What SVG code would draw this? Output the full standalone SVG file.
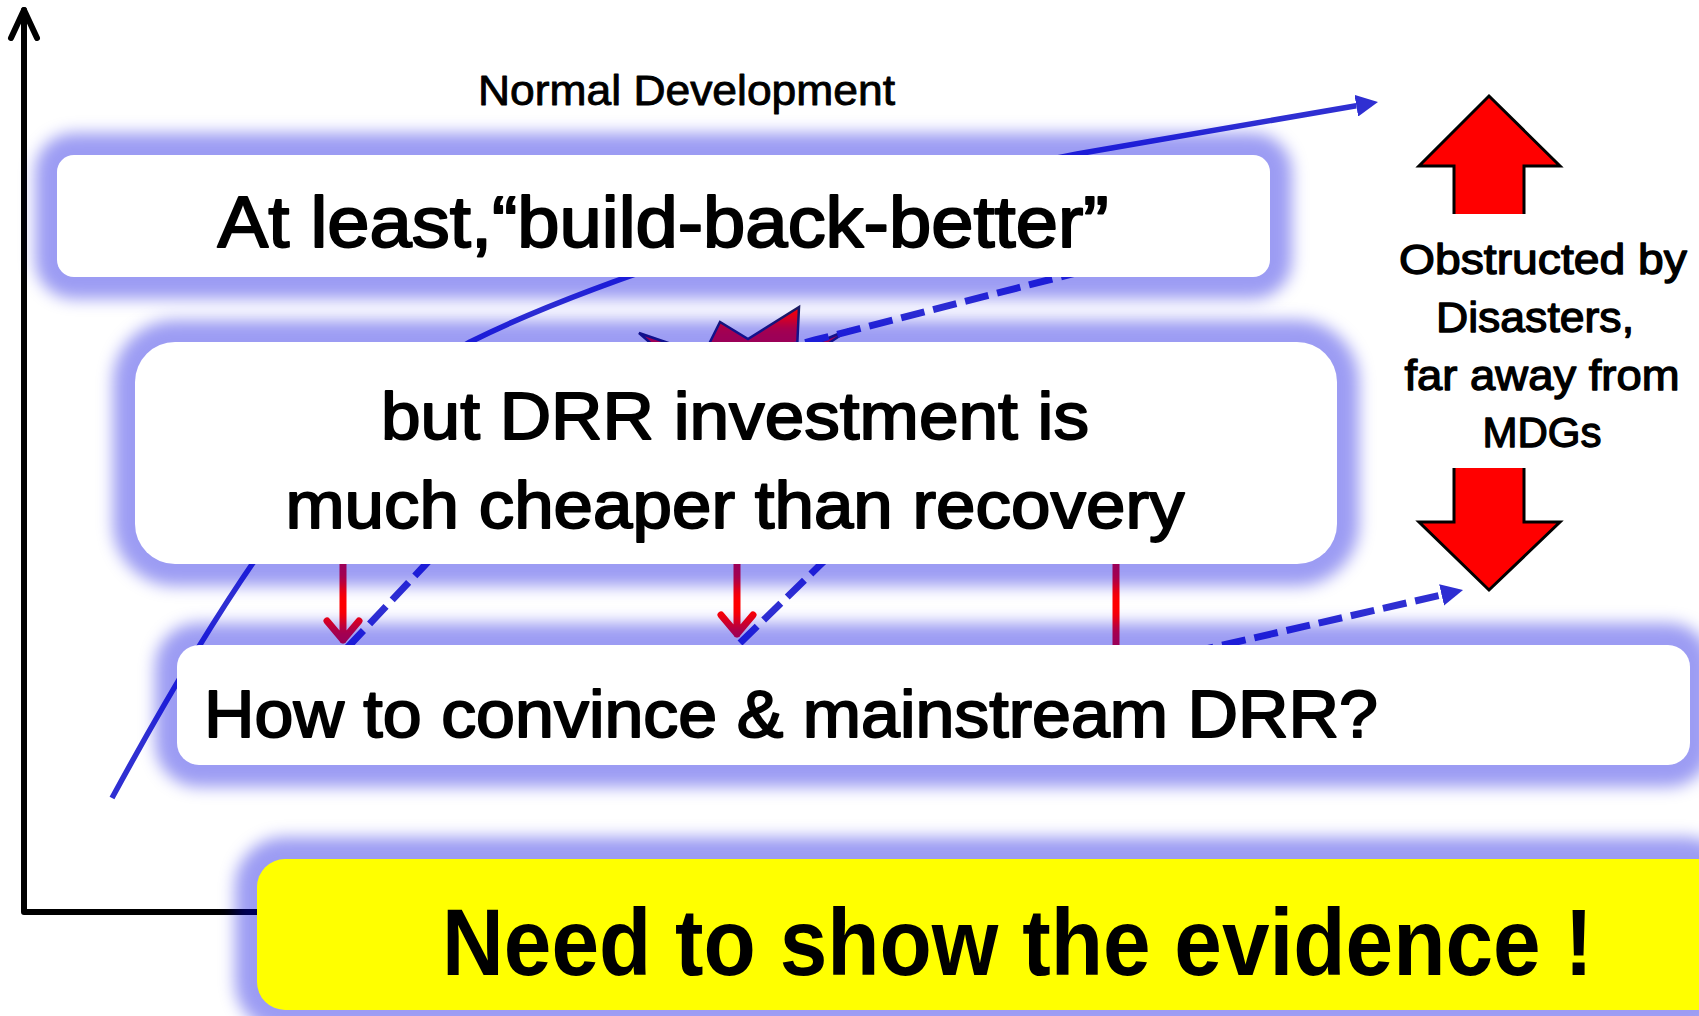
<svg xmlns="http://www.w3.org/2000/svg" width="1699" height="1016" viewBox="0 0 1699 1016">
  <defs>
    <style>
      .glow { fill: #0000e0; fill-opacity: 0.39; filter: url(#blur); }
      .box { fill: #ffffff; }
      .ybox { fill: #ffff00; }
      .t { font-family: "Liberation Sans", Arial, sans-serif; font-weight: bold; fill: #000000; }
      .tm { font-family: "Liberation Sans", Arial, sans-serif; font-weight: normal; fill: #000000; stroke: #000000; stroke-linejoin: round; }
      .blue { fill: none; stroke: #2f2fd2; stroke-width: 5.5; }
      .dash { fill: none; stroke: #2f2fd2; stroke-width: 7; stroke-dasharray: 24 9; }
      .red { fill: none; stroke: #ff0000; stroke-width: 7; stroke-linecap: round; stroke-linejoin: round; }
      .axis { fill: none; stroke: #000000; stroke-width: 6; stroke-linecap: round; stroke-linejoin: round; }
    </style>
    <filter id="blur" x="-10%" y="-50%" width="120%" height="200%">
      <feGaussianBlur stdDeviation="8"/>
    </filter>
    <marker id="ah" viewBox="0 0 22 22" refX="0" refY="11" markerWidth="22" markerHeight="22" markerUnits="userSpaceOnUse" orient="auto">
      <path d="M0,0 L22,11 L0,22 Z" fill="#2f2fd2"/>
    </marker>
  </defs>

  <rect x="0" y="0" width="1699" height="1016" fill="#ffffff"/>

  <g id="axes">
    <path class="axis" d="M24,10 L24,912 L300,912"/>
    <path class="axis" d="M11,38 L24,10 L37,38"/>
  </g>

  <g id="disaster-burst">
    <polygon points="639,333 680,347 705,352 720,322 748,339 799,307 797,350 812,345 850,329 826,345 815,365 760,380 700,375 670,360" fill="#ff0000" stroke="#1c1c5a" stroke-width="2.5" stroke-linejoin="miter"/>
  </g>

  <g id="connectors">
    <path class="blue" d="M112,798 C225,590 335,420 470,342 C590,282 840,200 1077,154 L1356.3,105.7" marker-end="url(#ah)"/>
    <path class="red" d="M343,550 L343,640 M327,621 L343,640 L359,621"/>
    <path class="red" d="M737,550 L737,634 M721,615 L737,634 L753,615"/>
    <path class="red" d="M1116,550 L1116,700"/>
    <path class="dash" d="M347,648 L425,565 C520,460 640,385 815,340 L1200,241"/>
    <path class="dash" d="M740,643 L820,565 L900,490"/>
    <path class="dash" d="M1190,652.6 L1441.6,594.9" marker-end="url(#ah)"/>
  </g>

  <g id="double-arrow">
    <polygon points="1489,96 1560,166 1524,166 1524,522 1560,522 1489,590 1419,522 1454,522 1454,166 1419,166" fill="#ff0000" stroke="#000000" stroke-width="3" stroke-linejoin="miter"/>
  </g>

  <g id="node-normal-development">
    <text class="tm" x="478" y="105" font-size="43" stroke-width="0.9" textLength="417" lengthAdjust="spacingAndGlyphs">Normal Development</text>
  </g>

  <g id="node-build-back-better">
    <rect class="glow" x="35" y="133" width="1257" height="166" rx="39"/>
    <rect class="box" x="57" y="155" width="1213" height="122" rx="17"/>
    <text class="tm" x="663" y="247" font-size="72" stroke-width="2" text-anchor="middle" textLength="891" lengthAdjust="spacingAndGlyphs">At least,“build-back-better”</text>
  </g>

  <g id="node-drr-investment">
    <rect class="glow" x="113" y="320" width="1246" height="266" rx="62"/>
    <rect class="box" x="135" y="342" width="1202" height="222" rx="40"/>
    <text class="tm" x="735" y="439" font-size="67" stroke-width="1.9" text-anchor="middle" textLength="708" lengthAdjust="spacingAndGlyphs">but DRR investment is</text>
    <text class="tm" x="735" y="528" font-size="67" stroke-width="1.9" text-anchor="middle" textLength="899" lengthAdjust="spacingAndGlyphs">much cheaper than recovery</text>
  </g>

  <g id="node-mainstream">
    <rect class="glow" x="155" y="623" width="1557" height="164" rx="44"/>
    <rect class="box" x="177" y="645" width="1513" height="120" rx="22"/>
    <text class="tm" x="204" y="737" font-size="66" stroke-width="1.9" textLength="1174" lengthAdjust="spacingAndGlyphs">How to convince &amp; mainstream DRR?</text>
  </g>

  <g id="node-evidence">
    <rect class="glow" x="235" y="837" width="1500" height="195" rx="50"/>
    <path class="ybox" d="M285,859 H1699 V1010 H285 A28,28 0 0 1 257,982 V887 A28,28 0 0 1 285,859 Z"/>
    <text class="t" x="442" y="975" font-size="94" textLength="1151" lengthAdjust="spacingAndGlyphs">Need to show the evidence !</text>
  </g>

  <g id="node-obstructed">
    <rect class="box" x="1440" y="214" width="100" height="254"/>
    <text class="tm" x="1543" y="274" font-size="42" stroke-width="1.3" text-anchor="middle" textLength="288" lengthAdjust="spacingAndGlyphs">Obstructed by</text>
    <text class="tm" x="1535" y="332" font-size="42" stroke-width="1.3" text-anchor="middle" textLength="198" lengthAdjust="spacingAndGlyphs">Disasters,</text>
    <text class="tm" x="1542" y="390" font-size="42" stroke-width="1.3" text-anchor="middle" textLength="275" lengthAdjust="spacingAndGlyphs">far away from</text>
    <text class="tm" x="1542" y="447" font-size="42" stroke-width="1.3" text-anchor="middle" textLength="119" lengthAdjust="spacingAndGlyphs">MDGs</text>
  </g>
</svg>
